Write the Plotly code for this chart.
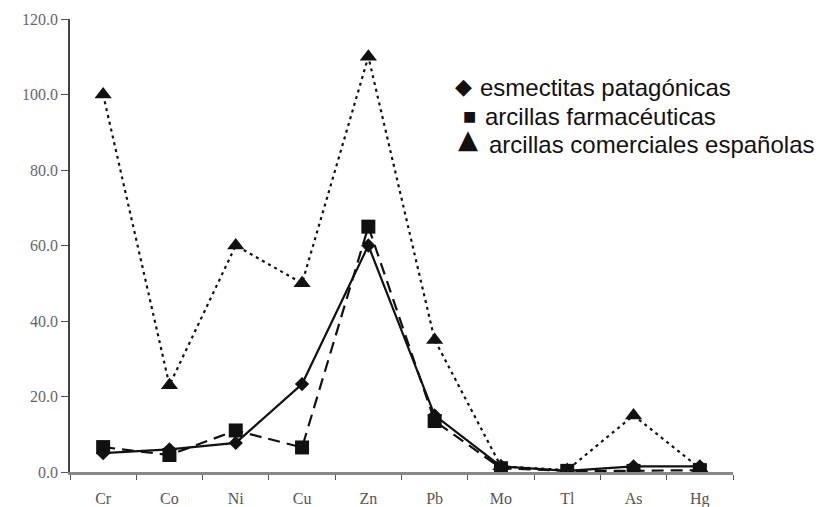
import plotly.graph_objects as go

elements = ["Cr", "Co", "Ni", "Cu", "Zn", "Pb", "Mo", "Tl", "As", "Hg"]
patagonicas = [5.0, 6.0, 7.7, 23.3, 60.0, 15.0, 1.5, 0.3, 1.5, 1.5]
farmaceuticas = [6.6, 4.5, 11.0, 6.5, 65.0, 13.5, 1.0, 0.3, 0.3, 0.5]
comerciales = [100.0, 23.0, 60.0, 50.0, 110.0, 35.0, 1.5, 0.5, 15.0, 1.0]
names = ["esmectitas patagónicas", "arcillas farmacéuticas", "arcillas comerciales españolas"]
symbols = ["◆", "■", "▲"]

fig = go.Figure()
fig.add_trace(go.Scatter(x=elements, y=comerciales, mode="lines+markers", name=names[2],
                         line=dict(color="#111", width=2.2, dash="3px,4px"),
                         marker=dict(symbol="triangle-up", size=15, color="#111"),
                         showlegend=False))
fig.add_trace(go.Scatter(x=elements, y=farmaceuticas, mode="lines+markers", name=names[1],
                         line=dict(color="#111", width=2.2, dash="12px,7px"),
                         marker=dict(symbol="square", size=14, color="#111"),
                         showlegend=False))
fig.add_trace(go.Scatter(x=elements, y=patagonicas, mode="lines+markers", name=names[0],
                         line=dict(color="#111", width=2.2),
                         marker=dict(symbol="diamond", size=11, color="#111"),
                         showlegend=False))

# legend drawn as text
legend_y = [0.848, 0.784, 0.724]
sym_y = [0.850, 0.786, 0.735]
sym_x = [0.593, 0.602, 0.600]
sym_size = [22, 14, 26]
text_x = [0.615, 0.623, 0.629]
for nm, sym, sy, ty, sx, ss, tx in zip(names, symbols, sym_y, legend_y, sym_x, sym_size, text_x):
    fig.add_annotation(xref="paper", yref="paper", x=sx, y=sy, text=sym, showarrow=False,
                       xanchor="center", yanchor="middle",
                       font=dict(family="DejaVu Sans", size=ss, color="#111"))
    fig.add_annotation(xref="paper", yref="paper", x=tx, y=ty, text=nm, showarrow=False,
                       xanchor="left", yanchor="middle",
                       font=dict(family="Liberation Sans, Arial", size=24, color="#111"))

fig.update_layout(
    width=827, height=507,
    margin=dict(l=70, r=94, t=19, b=35),
    paper_bgcolor="white", plot_bgcolor="white",
    showlegend=False,
    xaxis=dict(type="category", range=[-0.5, 9.5], showgrid=False, automargin=False,
               showline=True, linecolor="#888", linewidth=3,
               ticks="outside", ticklen=5, tickcolor="#555", tickson="boundaries",
               ticklabelstandoff=10,
               tickfont=dict(family="Liberation Serif, Times New Roman", size=16, color="#555"),
               zeroline=False),
    yaxis=dict(range=[0, 120], dtick=20, tickformat=".1f", showgrid=False, automargin=False,
               showline=True, linecolor="#444", linewidth=1.5,
               ticks="outside", ticklen=7, tickcolor="#555",
               tickfont=dict(family="Liberation Serif, Times New Roman", size=16, color="#666"),
               zeroline=False),
)

fig.write_html("out.html", config={"displayModeBar": False},
               post_script="document.body.style.margin='0px';")
